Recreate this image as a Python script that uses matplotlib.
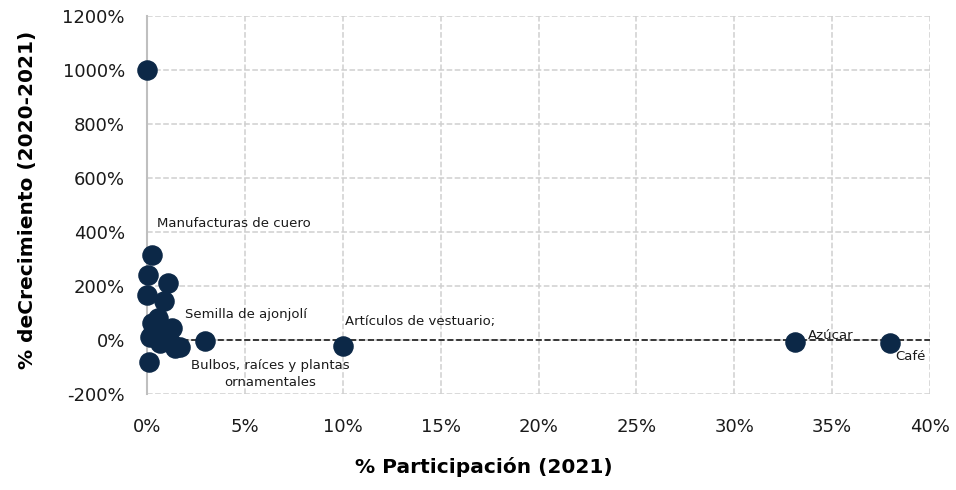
import matplotlib
matplotlib.use("Agg")
import matplotlib.pyplot as plt
import numpy as np

plt.rcParams['font.family'] = ['DejaVu Sans']

# % participación 2021 (x) and % crecimiento 2020-2021 (y)
participacion = [0.0, 0.26, 0.05, 1.07, 0.0, 0.87, 0.56, 1.3, 0.26, 0.15, 1.0,
                 1.7, 1.45, 0.66, 0.3, 0.8, 1.2, 0.1, 2.95, 10.0, 33.1, 37.95]
crecimiento = [1000, 315, 240, 211, 167, 146, 81, 46, 63, 11, 0,
               -26, -30, -11, 30, 25, -10, -80, -3, -22, -6, -13]

etiquetas = ["Manufacturas de cuero", "Semilla de ajonjolí",
             "Bulbos, raíces y plantas\nornamentales", "Artículos de vestuario;",
             "Azúcar", "Café"]
etq_x = [0.51, 1.94, 6.3, 10.1, 33.77, 38.2]
etq_y = [430, 93, -126, 70, 18, -63]
etq_ha = ['left', 'left', 'center', 'left', 'left', 'left']

x = np.array(participacion) / 100
y = np.array(crecimiento) / 100

fig = plt.figure(figsize=(9.56, 4.9), dpi=100)
ax = fig.add_axes([0.1538, 0.196, 0.8190, 0.771])

ax.plot([0, 0.40], [0, 0], ls='--', color='#1a1a1a', lw=1.2, zorder=1)
ax.scatter(x, y, s=190, color='#0c2847', zorder=3, clip_on=False)

for t, tx, ty, ha in zip(etiquetas, etq_x, etq_y, etq_ha):
    ax.text(tx / 100, ty / 100, t, fontsize=9.5, ha=ha, va='center',
            color='#1a1a1a', zorder=4, linespacing=1.45)

ax.set_xlim(0, 0.40)
ax.set_ylim(-2, 12)
ax.set_xticks(np.arange(0, 0.401, 0.05))
ax.set_xticklabels([f"{int(round(v*100))}%" for v in np.arange(0, 0.401, 0.05)])
ax.set_yticks(np.arange(-2, 12.01, 2))
ax.set_yticklabels([f"{int(round(v*100))}%" for v in np.arange(-2, 12.01, 2)])
ax.tick_params(labelsize=13, length=0, colors='#1a1a1a')
ax.tick_params(axis='x', pad=17)
ax.tick_params(axis='y', pad=16)

ax.grid(True, ls='--', color='#d0d0d0', lw=1.1)
ax.set_axisbelow(True)
for s in ['top', 'right', 'bottom']:
    ax.spines[s].set_visible(False)
ax.spines['left'].set_color('#bfbfbf')
ax.spines['left'].set_linewidth(1.5)

ax.set_xlabel("% Participación (2021)", fontsize=14.5, fontweight='bold')
ax.set_ylabel("% deCrecimiento (2020-2021)", fontsize=14.5, fontweight='bold')
ax.xaxis.set_label_coords(0.43, -0.168)
ax.yaxis.set_label_coords(-0.141, 0.513)

fig.savefig("out.png", dpi=100)
